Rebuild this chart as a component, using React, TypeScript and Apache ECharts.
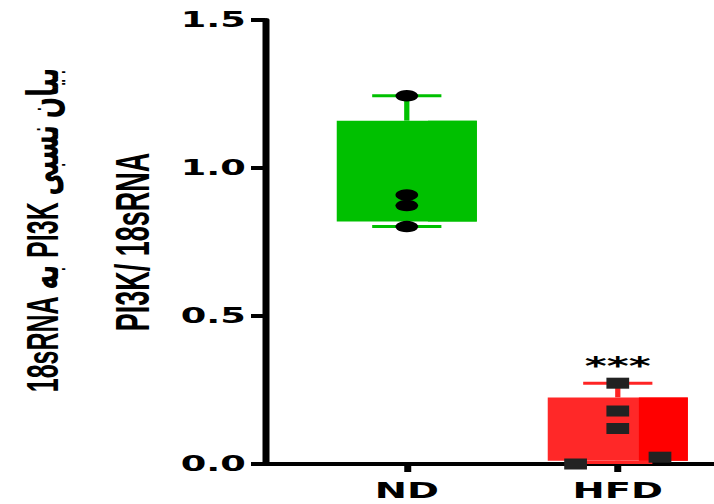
import { useEffect, useRef } from "react";
import * as echarts from "echarts";

// Groups on the x axis (placed at x = 1, 2 on a value scale)
const groups = ["ND", "HFD"];
const groupX = [1, 2];

// Box geometry per group: [lower whisker, box bottom, box top, upper whisker]
const ndBox = [0.802, 0.819, 1.16, 1.244];
const hfdBox = [0.005, 0.011, 0.225, 0.273];

// Individual measurements
const ndPoints = [1.244, 0.909, 0.873, 0.802];
const hfdPoints = [0.273, 0.179, 0.12, 0.0, 0.023];
const hfdJitter = [0, 0, 0, -0.2, 0.2];

// Significance marks above each group
const significance = ["", "***"];

const yTicks = [0, 0.5, 1.0, 1.5];

const boxFills = ["#00c000", "#ff2828"];
const boxShade = ["#00c000", "#ff0000"];
const whiskerColors = ["#00c000", "#ff2424"];

// The figure is drawn narrow and widened horizontally
const STRETCH = 1.75;
const WIDTH = 714 / STRETCH;
const HEIGHT = 504;

export default function App() {
  const ref = useRef<HTMLDivElement>(null);

  useEffect(() => {
    if (!ref.current) return;
    const chart = echarts.init(ref.current, null, { renderer: "svg" });

    const boxData = groupX.map((x, i) => {
      const b = i === 0 ? ndBox : hfdBox;
      return [x, b[0], b[1], b[2], b[3], i];
    });

    const halfBox = 0.332;
    const halfCap = 0.164;
    const shadeFrom = 0.1;

    const option: echarts.EChartsOption = {
      animation: false,
      backgroundColor: "#ffffff",
      grid: { left: 265 / STRETCH, right: 0, top: 20, bottom: 40, containLabel: false },
      xAxis: {
        type: "value",
        min: 0.328,
        max: 2.456,
        splitLine: { show: false },
        axisLine: { show: true, lineStyle: { color: "#000", width: 4 } },
        axisTick: {
          show: true,
          length: 8,
          lineStyle: { color: "#000", width: 4 },
          customValues: groupX,
        } as any,
        axisLabel: {
          customValues: groupX,
          formatter: (v: number) => groups[groupX.indexOf(Math.round(v))] ?? "",
          color: "#000",
          fontFamily: "DejaVu Sans",
          fontWeight: "bold",
          fontSize: 22,
          margin: 15,
        } as any,
      },
      yAxis: {
        type: "value",
        min: yTicks[0],
        max: yTicks[yTicks.length - 1],
        interval: 0.5,
        splitLine: { show: false },
        axisLine: { show: true, lineStyle: { color: "#000", width: 4 } },
        axisTick: { show: true, length: 8, lineStyle: { color: "#000", width: 4 } },
        axisLabel: {
          formatter: (v: number) => v.toFixed(1),
          color: "#000",
          fontFamily: "DejaVu Sans",
          fontWeight: "bold",
          fontSize: 21,
          margin: 11,
        },
        name: "PI3K/ 18sRNA",
        nameLocation: "middle",
        nameRotate: 90,
        nameGap: 62,
        nameTextStyle: {
          color: "#000",
          fontFamily: "Liberation Sans",
          fontWeight: "bold",
          fontSize: 27,
        },
      },
      graphic: [
        {
          type: "text",
          x: 43 / STRETCH,
          y: 230,
          rotation: Math.PI / 2,
          style: {
            text: "\u202Bبیان نسبی PI3K به 18sRNA\u202C",
            fill: "#000",
            font: "bold 25px 'Liberation Sans', 'DejaVu Sans'",
            textAlign: "center",
            textVerticalAlign: "middle",
          },
        },
      ],
      series: [
        {
          type: "custom",
          data: boxData,
          z: 2,
          renderItem: (params: any, api: any) => {
            const x = api.value(0);
            const lo = api.value(1);
            const q1 = api.value(2);
            const q3 = api.value(3);
            const hi = api.value(4);
            const i = api.value(5);
            const [xl, yTop] = api.coord([x - halfBox, q3]);
            const [xr, yBot] = api.coord([x + halfBox, q1]);
            const [xs] = api.coord([x + shadeFrom, q1]);
            const [xc, yHi] = api.coord([x, hi]);
            const [, yLo] = api.coord([x, lo]);
            const [cl] = api.coord([x - halfCap, hi]);
            const [cr] = api.coord([x + halfCap, hi]);
            const wStyle = { stroke: whiskerColors[i], lineWidth: 3 };
            const children: any[] = [
              { type: "rect", shape: { x: xl, y: yTop, width: xr - xl, height: yBot - yTop }, style: { fill: boxFills[i] } },
              { type: "rect", shape: { x: xs, y: yTop, width: xr - xs, height: yBot - yTop }, style: { fill: boxShade[i] } },
              { type: "line", shape: { x1: xc, y1: yTop, x2: xc, y2: yHi }, style: wStyle },
              { type: "line", shape: { x1: cl, y1: yHi, x2: cr, y2: yHi }, style: wStyle },
              { type: "line", shape: { x1: xc, y1: yBot, x2: xc, y2: yLo }, style: wStyle },
              { type: "line", shape: { x1: cl, y1: yLo, x2: cr, y2: yLo }, style: wStyle },
            ];
            if (significance[i]) {
              children.push({
                type: "text",
                x: xc,
                y: yHi - 6,
                style: {
                  text: significance[i],
                  fill: "#000",
                  font: "bold 24px 'DejaVu Sans'",
                  textAlign: "center",
                  textVerticalAlign: "bottom",
                },
              });
            }
            return { type: "group", children };
          },
        },
        {
          type: "scatter",
          z: 3,
          symbol: "circle",
          symbolSize: [13, 11.5],
          itemStyle: { color: "#000", opacity: 1 },
          data: ndPoints.map((v) => [groupX[0], v]),
        },
        {
          type: "scatter",
          z: 3,
          symbol: "rect",
          symbolSize: [13, 11],
          itemStyle: { color: "#222", opacity: 1 },
          data: hfdPoints.map((v, k) => [groupX[1] + hfdJitter[k], v]),
        },
      ],
    };

    chart.setOption(option);
    return () => chart.dispose();
  }, []);

  return (
    <div
      ref={ref}
      style={{
        position: "absolute",
        left: 0,
        top: 0,
        width: WIDTH,
        height: HEIGHT,
        transform: `scaleX(${STRETCH})`,
        transformOrigin: "0 0",
      }}
    />
  );
}
